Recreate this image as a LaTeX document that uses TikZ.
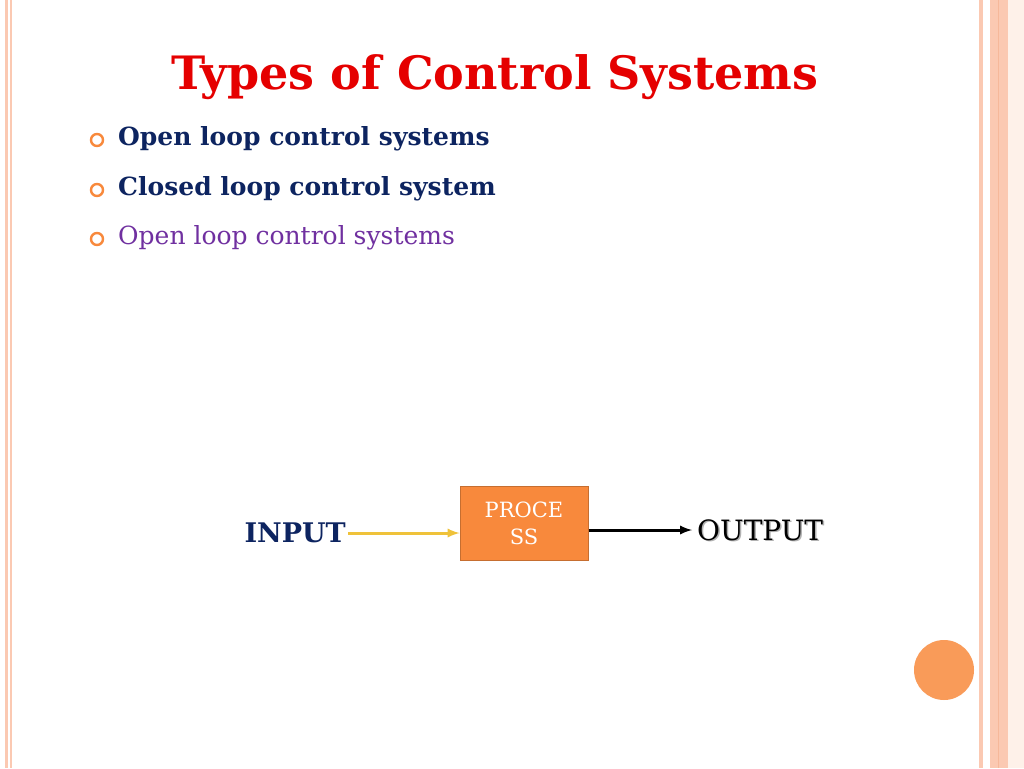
\documentclass[tikz,border=0pt]{standalone}
\usepackage{fontspec}
\setmainfont{DejaVu Serif}
\definecolor{peach}{HTML}{FBC9B2}
\definecolor{peachd}{HTML}{F29A6E}
\definecolor{orng}{HTML}{F8893C}
\definecolor{navy}{HTML}{0D2460}
\definecolor{purp}{HTML}{7030A0}
\definecolor{yel}{HTML}{EFC23A}
\tikzset{bul/.style={circle,draw=orng,line width=2.4pt,minimum size=12pt,inner sep=0pt,outer sep=0pt},
btxt/.style={anchor=west,font=\fontsize{25}{30}\selectfont\bfseries,text=navy,inner sep=0pt}}
\begin{document}
\begin{tikzpicture}[x=1pt,y=-1pt]
\useasboundingbox (0,0) rectangle (1024,768);
\fill[white] (0,0) rectangle (1024,768);
% left borders
\fill[peach] (5,0) rectangle (8,768);
\fill[peach] (10,0) rectangle (12,768);
% right borders
\fill[peach] (979,0) rectangle (983,768);
\fill[peach] (990,0) rectangle (1024,768);
\fill[peachd!70] (997.5,0) rectangle (999,768);
\fill[peach!80!orange!20] (1008,0) rectangle (1024,768);
\node[circle,fill=orng!85,minimum size=60pt,inner sep=0pt] (dot) at (944,670) {};
\node[font=\fontsize{46}{50}\selectfont\bfseries,text=red!90!black,inner sep=0pt] (title) at (495,77) {Types of Control Systems};
\node[bul] (b1) at (97,140) {};
\node[bul] (b2) at (97,190) {};
\node[bul] (b3) at (97,239) {};
\node[btxt] (t1) at (118,139) {Open loop control systems};
\node[btxt] (t2) at (118,189) {Closed loop control system};
\node[btxt,font=\fontsize{25}{30}\selectfont,text=purp] (t3) at (118,238) {Open loop control systems};
\node[draw=orng!80!black,fill=orng,line width=1pt,minimum width=128pt,minimum height=74pt,align=center,text=white,font=\fontsize{21}{27}\selectfont] (proc) at (524,523) {PROCE\\SS};
\node[font=\fontsize{27}{34}\selectfont\bfseries,text=navy,anchor=east,inner sep=2pt] (in) at (348,533) {INPUT};
\node[font=\fontsize{28}{34}\selectfont,text=gray!60,anchor=west,inner sep=0pt] at (698.5,531.5) {OUTPUT};
\node[font=\fontsize{28}{34}\selectfont,text=black,anchor=west,inner sep=0pt] (out) at (697,530) {OUTPUT};
\draw[yel,line width=3pt,-latex] (in.east) -- (in.east -| proc.west);
\draw[black,line width=3pt,-latex] (proc.east |- out.west) -- ([xshift=-5pt]out.west);
\end{tikzpicture}
\end{document}
